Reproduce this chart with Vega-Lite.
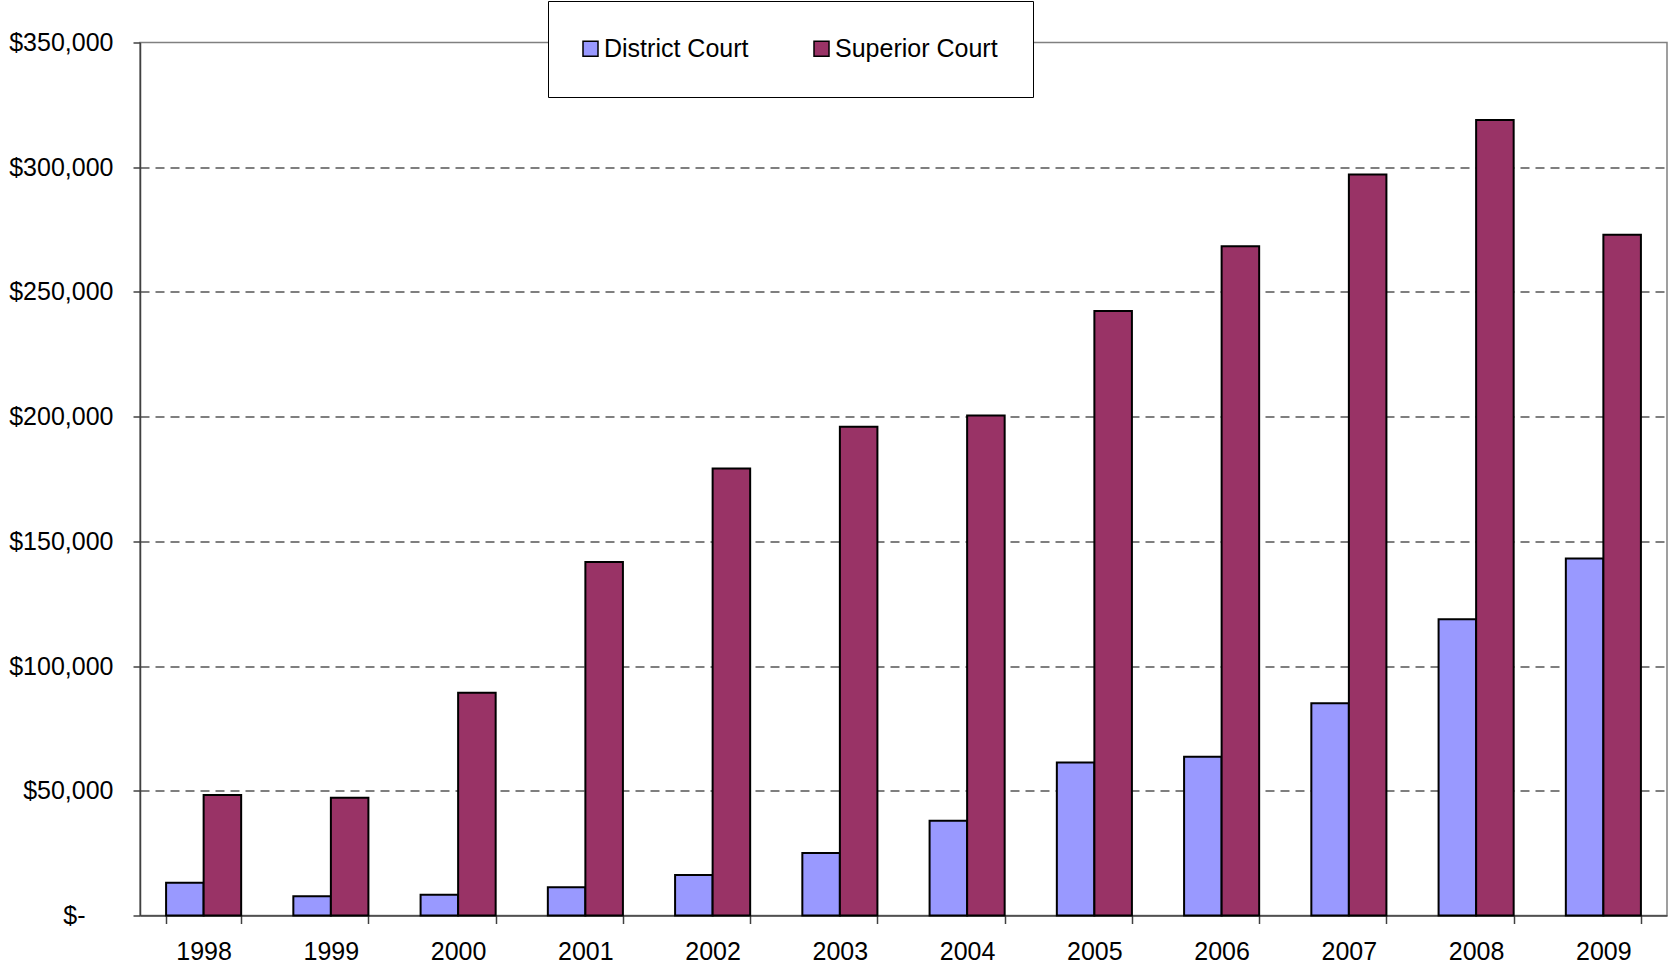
{
  "$schema": "https://vega.github.io/schema/vega-lite/v6.json",
  "width": 1527,
  "height": 873,
  "autosize": {"type": "none"},
  "padding": {"left": 140, "top": 42.5, "right": 2, "bottom": 53.5},
  "background": "white",
  "config": {
    "view": {"stroke": "#808080", "strokeWidth": 1.5, "fill": "white"},
    "font": "Liberation Sans"
  },
  "data": {
    "values": [
      {"year": "1998", "court": "District Court", "amount": 13100},
      {"year": "1998", "court": "Superior Court", "amount": 48300},
      {"year": "1999", "court": "District Court", "amount": 7700},
      {"year": "1999", "court": "Superior Court", "amount": 47200},
      {"year": "2000", "court": "District Court", "amount": 8300},
      {"year": "2000", "court": "Superior Court", "amount": 89300},
      {"year": "2001", "court": "District Court", "amount": 11300},
      {"year": "2001", "court": "Superior Court", "amount": 141700},
      {"year": "2002", "court": "District Court", "amount": 16200},
      {"year": "2002", "court": "Superior Court", "amount": 179200},
      {"year": "2003", "court": "District Court", "amount": 25100},
      {"year": "2003", "court": "Superior Court", "amount": 195900},
      {"year": "2004", "court": "District Court", "amount": 38000},
      {"year": "2004", "court": "Superior Court", "amount": 200500},
      {"year": "2005", "court": "District Court", "amount": 61300},
      {"year": "2005", "court": "Superior Court", "amount": 242400},
      {"year": "2006", "court": "District Court", "amount": 63600},
      {"year": "2006", "court": "Superior Court", "amount": 268300},
      {"year": "2007", "court": "District Court", "amount": 85100},
      {"year": "2007", "court": "Superior Court", "amount": 297100},
      {"year": "2008", "court": "District Court", "amount": 118800},
      {"year": "2008", "court": "Superior Court", "amount": 318900},
      {"year": "2009", "court": "District Court", "amount": 143100},
      {"year": "2009", "court": "Superior Court", "amount": 272900}
    ]
  },
  "mark": {"type": "bar", "stroke": "black", "strokeWidth": 2},
  "encoding": {
    "x": {
      "field": "year",
      "type": "nominal",
      "scale": {"paddingInner": 0.41, "paddingOuter": 0.205},
      "axis": {
        "title": null,
        "labelAngle": 0,
        "labelFontSize": 25,
        "labelColor": "black",
        "tickBand": "extent",
        "tickSize": 8,
        "tickColor": "#404040",
        "tickWidth": 1.5,
        "domainColor": "#404040",
        "domainWidth": 1.5,
        "labelPadding": 16,
        "grid": false
      }
    },
    "xOffset": {
      "field": "court",
      "type": "nominal",
      "sort": ["District Court", "Superior Court"],
      "scale": {"paddingInner": 0, "paddingOuter": 0}
    },
    "y": {
      "field": "amount",
      "type": "quantitative",
      "scale": {"domain": [0, 350000], "nice": false},
      "axis": {
        "title": null,
        "values": [0, 50000, 100000, 150000, 200000, 250000, 300000, 350000],
        "labelFontSize": 25,
        "labelColor": "black",
        "labelExpr": "datum.value == 0 ? '$-' : '$' + format(datum.value, ',')",
        "tickSize": 7,
        "tickColor": "#404040",
        "tickWidth": 1.5,
        "labelPadding": {"condition": {"test": "datum.value == 0", "value": 48}, "value": 20},
        "domainColor": "#404040",
        "domainWidth": 1.5,
        "gridColor": "#000000",
        "gridDash": [9, 6],
        "gridWidth": 1.2,
        "gridOpacity": {"condition": {"test": "datum.value == 0 || datum.value == 350000", "value": 0}, "value": 1}
      }
    },
    "color": {
      "field": "court",
      "type": "nominal",
      "scale": {"domain": ["District Court", "Superior Court"], "range": ["#9999FF", "#993366"]},
      "legend": {
        "title": null,
        "orient": "none",
        "legendX": 408,
        "legendY": -41.5,
        "direction": "horizontal",
        "fillColor": "white",
        "strokeColor": "black",
        "padding": 35,
        "symbolType": "square",
        "symbolSize": 225,
        "symbolStrokeColor": "black",
        "symbolStrokeWidth": 1.5,
        "symbolOpacity": 1,
        "symbolOffset": -5,
        "labelFontSize": 25,
        "labelColor": "black",
        "labelLimit": 400,
        "labelOffset": 1,
        "columnPadding": 62
      }
    }
  }
}
